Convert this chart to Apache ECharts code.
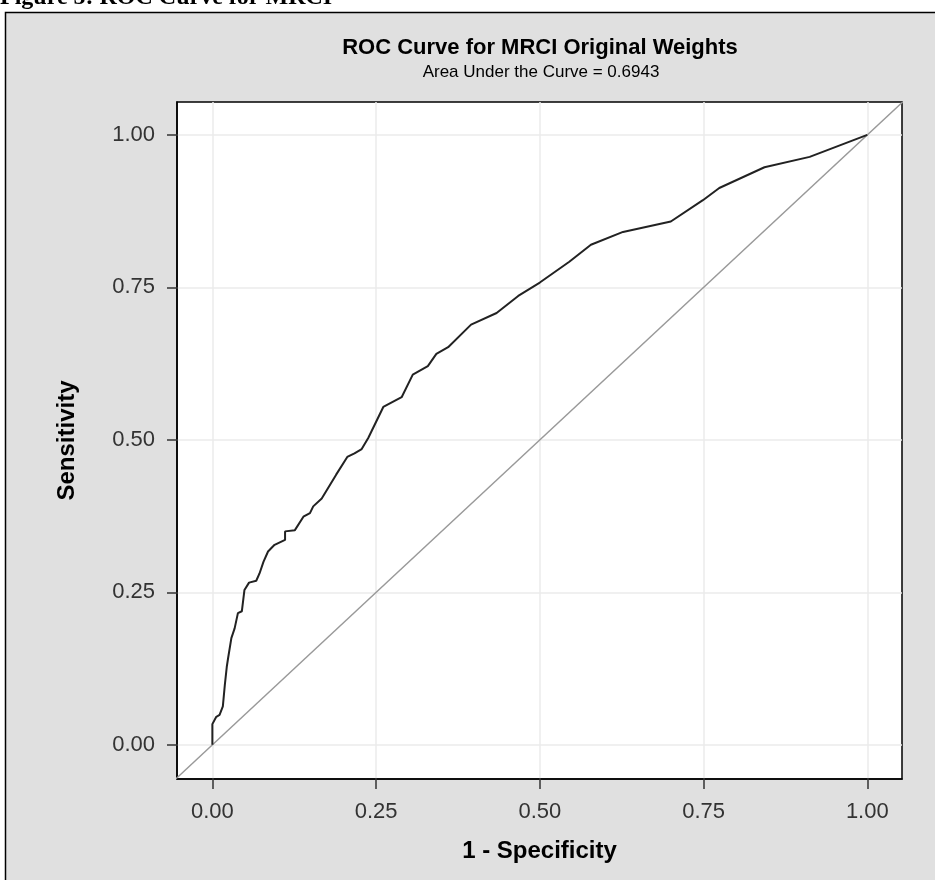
<!DOCTYPE html>
<html>
<head>
<meta charset="utf-8">
<title>ROC Curve for MRCI</title>
<script src="https://cdn.jsdelivr.net/npm/echarts@6/dist/echarts.min.js"></script>
<style>
  html, body { margin: 0; padding: 0; background: #fff; }
  #chart { width: 935px; height: 880px; }
</style>
</head>
<body>
<div id="chart"></div>
<script>
// ROC curve points
const fprValues = [
  0, 0, 0.003, 0.006, 0.011, 0.014, 0.016, 0.019, 0.022, 0.024,
  0.029, 0.034, 0.039, 0.045, 0.049, 0.056, 0.067, 0.072, 0.078, 0.085,
  0.095, 0.111, 0.111, 0.126, 0.139, 0.149, 0.154, 0.167, 0.189, 0.206,
  0.217, 0.228, 0.238, 0.261, 0.289, 0.306, 0.329, 0.342, 0.360, 0.395,
  0.434, 0.467, 0.500, 0.545, 0.578, 0.627, 0.700, 0.749, 0.774, 0.843,
  0.912, 1
];
const tprValues = [
  0, 0.034, 0.036, 0.046, 0.049, 0.047, 0.063, 0.098, 0.128, 0.142,
  0.175, 0.191, 0.216, 0.219, 0.254, 0.266, 0.269, 0.281, 0.300, 0.317,
  0.328, 0.336, 0.350, 0.352, 0.374, 0.380, 0.391, 0.404, 0.443, 0.472,
  0.478, 0.485, 0.503, 0.554, 0.570, 0.607, 0.621, 0.641, 0.652, 0.689,
  0.708, 0.736, 0.758, 0.792, 0.820, 0.841, 0.858, 0.893, 0.913, 0.947,
  0.964, 1
];
const tickValues = [0, 0.25, 0.5, 0.75, 1];
const captionText = "Figure 5: ROC Curve for MRCI";
const titleText = "ROC Curve for MRCI Original Weights";
const aucText = "Area Under the Curve = 0.6943";

// axis ranges (SAS pads the 0..1 range a little)
const X_MIN = -0.054, X_MAX = 1.053;
const Y_MIN = -0.056, Y_MAX = 1.054;

const FONT = "'Liberation Sans', Arial, sans-serif";

const rocData = fprValues.map((x, i) => [x, tprValues[i]]);
const diagonal = [[Math.min(X_MIN, Y_MIN), Math.min(X_MIN, Y_MIN)], [Math.max(X_MAX, Y_MAX), Math.max(X_MAX, Y_MAX)]];

const chart = echarts.init(document.getElementById("chart"), null, { renderer: "canvas" });

const axisCommon = {
  type: "value",
  axisLine: { show: true, onZero: false, lineStyle: { color: "#000", width: 1.5 } },
  axisTick: { show: true, length: 10, customValues: tickValues, lineStyle: { color: "#333", width: 1.5 } },
  axisLabel: {
    customValues: tickValues,
    color: "#333",
    fontFamily: FONT,
    fontSize: 22,
    margin: 22,
    formatter: (v) => v.toFixed(2),
  },
  splitLine: { show: true, lineStyle: { color: "#ebebeb", width: 1.5 } },
  nameLocation: "middle",
  nameTextStyle: { color: "#000", fontFamily: FONT, fontSize: 24, fontWeight: "bold" },
};

chart.setOption({
  animation: false,
  backgroundColor: "#fff",
  graphic: [
    {
      type: "rect",
      silent: true,
      z: -10,
      shape: { x: 5.5, y: 12.5, width: 960, height: 900 },
      style: { fill: "#e0e0e0", stroke: "#000", lineWidth: 1.5 },
    },
    {
      // page caption, cut off by the top edge in the source
      type: "text",
      silent: true,
      left: 0,
      top: -14,
      style: {
        text: captionText,
        font: "bold 24px 'Liberation Serif', 'Times New Roman', serif",
        fill: "#000",
      },
    },
    {
      type: "text",
      silent: true,
      x: 540,
      y: 48,
      style: {
        text: titleText,
        font: "bold 22px " + FONT,
        fill: "#000",
        align: "center",
        verticalAlign: "middle",
      },
    },
    {
      type: "text",
      silent: true,
      x: 541,
      y: 72,
      style: {
        text: aucText,
        font: "17px " + FONT,
        fill: "#000",
        align: "center",
        verticalAlign: "middle",
      },
    },
  ],
  grid: {
    left: 177,
    top: 102,
    right: 33,
    bottom: 101,
    show: true,
    backgroundColor: "#fff",
    borderColor: "#000",
    borderWidth: 1.5,
  },
  xAxis: {
    ...axisCommon,
    min: X_MIN,
    max: X_MAX,
    name: "1 - Specificity",
    nameGap: 60,
  },
  yAxis: {
    ...axisCommon,
    min: Y_MIN,
    max: Y_MAX,
    name: "Sensitivity",
    nameGap: 98,
  },
  series: [
    {
      name: "Reference",
      type: "line",
      data: diagonal,
      symbol: "none",
      clip: true,
      lineStyle: { color: "#999", width: 1.5 },
      silent: true,
    },
    {
      name: "ROC",
      type: "line",
      data: rocData,
      symbol: "none",
      clip: true,
      lineStyle: { color: "#222", width: 2 },
    },
  ],
});
</script>
</body>
</html>
